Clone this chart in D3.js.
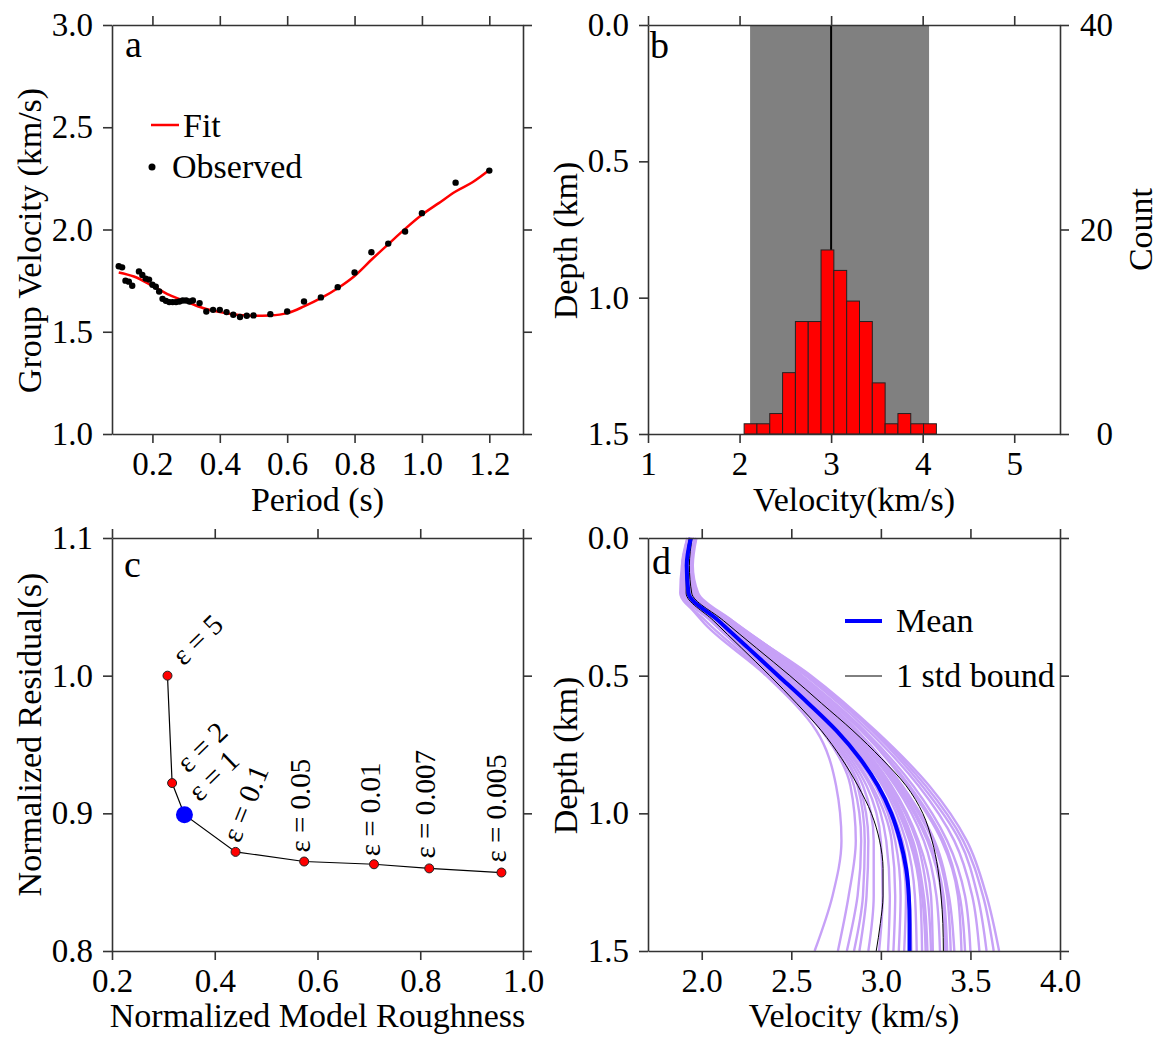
<!DOCTYPE html>
<html>
<head>
<meta charset="utf-8">
<script src="https://cdn.jsdelivr.net/npm/d3@7"></script>
<style>
  body { margin: 0; background: #fff; }
  text { font-family: "Liberation Serif", "Times New Roman", serif; }
</style>
</head>
<body>
<svg id="chart" width="1161" height="1043"></svg>
<script>
// panel a: dispersion curve
var periods = [0.10, 0.11, 0.12, 0.13, 0.14, 0.16, 0.17, 0.18, 0.19, 0.20, 0.21, 0.22, 0.23, 0.24,
               0.25, 0.26, 0.27, 0.28, 0.29, 0.30, 0.31, 0.32, 0.34, 0.36, 0.38, 0.40, 0.42, 0.44,
               0.46, 0.48, 0.50, 0.55, 0.60, 0.65, 0.70, 0.75, 0.80, 0.85, 0.90, 0.95, 1.00, 1.10, 1.20];
var observed = [1.82, 1.815, 1.75, 1.745, 1.725, 1.795, 1.778, 1.76, 1.755, 1.73, 1.72, 1.697, 1.661, 1.651,
                1.645, 1.645, 1.645, 1.648, 1.653, 1.653, 1.648, 1.653, 1.640, 1.599, 1.607, 1.607, 1.596, 1.583,
                1.572, 1.578, 1.580, 1.586, 1.599, 1.648, 1.668, 1.718, 1.790, 1.889, 1.931, 1.990, 2.080, 2.229, 2.288];
var fitPeriods = [0.10, 0.145, 0.20, 0.25, 0.30, 0.35, 0.40, 0.45, 0.50, 0.55, 0.60, 0.65, 0.70, 0.75,
                  0.80, 0.85, 0.90, 0.95, 1.00, 1.05, 1.10, 1.15, 1.20];
var fitVelocity = [1.79, 1.77, 1.725, 1.68, 1.648, 1.616, 1.596, 1.583, 1.578, 1.58, 1.591, 1.624, 1.664, 1.713,
                   1.773, 1.852, 1.928, 2.003, 2.072, 2.129, 2.186, 2.231, 2.291];

// panel b: velocity histogram
var binEdges = [2.05, 2.19, 2.33, 2.47, 2.61, 2.75, 2.89, 3.03, 3.17, 3.31, 3.45, 3.59, 3.73, 3.87, 4.01, 4.15];
var binCounts = [1, 1, 2, 6, 11, 11, 18, 16, 13, 11, 5, 1, 2, 1, 1];
var bandRange = [2.115, 4.07];
var centreVelocity = 3.0;

// panel c: L-curve
var roughness = [0.308, 0.317, 0.341, 0.4405, 0.574, 0.710, 0.8175, 0.958];
var residual = [1.0, 0.922, 0.899, 0.872, 0.865, 0.863, 0.860, 0.857];
var epsLabels = ["5", "2", "1", "0.1", "0.05", "0.01", "0.007", "0.005"];
var chosenIndex = 2;

// panel d: velocity profiles
var depthGrid = [0, 0.1, 0.2, 0.3, 0.4, 0.5, 0.6, 0.7, 0.8, 0.9, 1.0, 1.1, 1.2, 1.3, 1.4, 1.5];
var meanProfile = [1.939, 1.916, 1.926, 2.093, 2.260, 2.427, 2.594, 2.752, 2.882, 2.984, 3.058, 3.108, 3.141, 3.156, 3.160, 3.160];
var lowerBound = [1.931, 1.913, 1.913, 2.065, 2.223, 2.380, 2.529, 2.668, 2.780, 2.872, 2.947, 2.993, 3.012, 3.012, 2.997, 2.974];
var upperBound = [1.946, 1.931, 1.944, 2.121, 2.306, 2.492, 2.668, 2.844, 3.002, 3.141, 3.234, 3.286, 3.318, 3.336, 3.346, 3.349];
var modelDepths = [0, 0.1, 0.2, 0.3, 0.5, 0.7, 0.9, 1.1, 1.3, 1.5];
var models = [
  [1.93, 1.90, 1.90, 2.00, 2.36, 2.64, 2.75, 2.78, 2.73, 2.63],
  [1.92, 1.89, 1.88, 2.02, 2.37, 2.67, 2.83, 2.86, 2.82, 2.76],
  [1.94, 1.91, 1.92, 2.06, 2.38, 2.68, 2.85, 2.89, 2.87, 2.81],
  [1.93, 1.90, 1.89, 2.05, 2.39, 2.69, 2.88, 2.93, 2.92, 2.88],
  [1.95, 1.92, 1.93, 2.07, 2.40, 2.70, 2.90, 2.96, 2.96, 2.93],
  [1.92, 1.89, 1.90, 2.06, 2.40, 2.71, 2.92, 3.00, 3.01, 2.99],
  [1.94, 1.91, 1.92, 2.08, 2.41, 2.72, 2.94, 3.03, 3.05, 3.04],
  [1.93, 1.90, 1.91, 2.07, 2.42, 2.73, 2.95, 3.06, 3.08, 3.07],
  [1.95, 1.92, 1.94, 2.10, 2.43, 2.74, 2.97, 3.08, 3.11, 3.10],
  [1.94, 1.91, 1.93, 2.09, 2.43, 2.75, 2.98, 3.10, 3.14, 3.13],
  [1.93, 1.91, 1.92, 2.09, 2.44, 2.76, 2.99, 3.12, 3.16, 3.17],
  [1.96, 1.93, 1.95, 2.11, 2.45, 2.77, 3.01, 3.14, 3.19, 3.20],
  [1.94, 1.92, 1.93, 2.10, 2.45, 2.78, 3.02, 3.16, 3.22, 3.23],
  [1.95, 1.92, 1.94, 2.12, 2.47, 2.80, 3.04, 3.18, 3.24, 3.26],
  [1.93, 1.91, 1.92, 2.11, 2.48, 2.82, 3.06, 3.21, 3.28, 3.29],
  [1.96, 1.93, 1.95, 2.13, 2.49, 2.83, 3.08, 3.24, 3.31, 3.33],
  [1.95, 1.92, 1.94, 2.13, 2.51, 2.85, 3.10, 3.27, 3.35, 3.37],
  [1.94, 1.92, 1.93, 2.14, 2.53, 2.87, 3.12, 3.30, 3.38, 3.41],
  [1.96, 1.94, 1.96, 2.15, 2.54, 2.89, 3.15, 3.34, 3.43, 3.45],
  [1.95, 1.93, 1.95, 2.15, 2.56, 2.91, 3.18, 3.37, 3.47, 3.50],
  [1.97, 1.94, 1.97, 2.16, 2.58, 2.93, 3.21, 3.41, 3.51, 3.55],
  [1.96, 1.94, 1.96, 2.17, 2.59, 2.95, 3.23, 3.44, 3.54, 3.59],
  [1.97, 1.95, 1.98, 2.17, 2.60, 2.96, 3.25, 3.46, 3.57, 3.63],
  [1.96, 1.94, 1.97, 2.16, 2.61, 2.97, 3.27, 3.48, 3.59, 3.66],
  [1.94, 1.91, 1.92, 2.10, 2.46, 2.79, 3.03, 3.17, 3.23, 3.25],
  [1.95, 1.93, 1.95, 2.12, 2.50, 2.84, 3.09, 3.26, 3.34, 3.36],
  [1.93, 1.90, 1.90, 2.05, 2.38, 2.69, 2.87, 2.91, 2.90, 2.85],
  [1.96, 1.94, 1.96, 2.14, 2.55, 2.90, 3.16, 3.35, 3.44, 3.47],
  [1.94, 1.92, 1.94, 2.11, 2.47, 2.81, 3.05, 3.20, 3.26, 3.28],
  [1.95, 1.93, 1.96, 2.14, 2.52, 2.86, 3.11, 3.29, 3.37, 3.39]
];

var FS = 33;      // tick labels
var TS = 34;      // titles and legend
var svg = d3.select("#chart");
svg.append("rect").attr("width", 1161).attr("height", 1043).attr("fill", "#fff");

// left, right, top, bottom of each panel
var boxA = {l: 112, r: 523, t: 25, b: 434};
var boxB = {l: 648, r: 1060, t: 25, b: 434};
var boxC = {l: 112, r: 523, t: 538, b: 951};
var boxD = {l: 648, r: 1060, t: 538, b: 951};

function styleAxis(g) {
    g.attr("font-size", FS).attr("font-family", "Liberation Serif");
    g.selectAll("path, line").attr("stroke", "#333").attr("stroke-width", 1.6);
    g.selectAll("text").attr("fill", "#000");
}

function drawFrame(box, x, y, xt, xfmt, yt, yfmt, rightAxis) {
    var g = svg.append("g");
    g.append("g").attr("transform", "translate(0," + box.b + ")")
        .call(d3.axisBottom(x).tickValues(xt).tickFormat(xfmt).tickSize(9).tickSizeOuter(0).tickPadding(9))
        .call(styleAxis);
    g.append("g").attr("transform", "translate(0," + box.t + ")")
        .call(d3.axisTop(x).tickValues(xt).tickFormat("").tickSize(9).tickSizeOuter(0))
        .call(styleAxis);
    g.append("g").attr("transform", "translate(" + box.l + ",0)")
        .call(d3.axisLeft(y).tickValues(yt).tickFormat(yfmt).tickSize(9).tickSizeOuter(0).tickPadding(10))
        .call(styleAxis);
    if (!rightAxis) {
        g.append("g").attr("transform", "translate(" + box.r + ",0)")
            .call(d3.axisRight(y).tickValues(yt).tickFormat("").tickSize(9).tickSizeOuter(0))
            .call(styleAxis);
    }
    return g;
}

function axisTitle(text, x, y, rotate) {
    svg.append("text")
        .attr("transform", "translate(" + x + "," + y + ")" + (rotate ? " rotate(-90)" : ""))
        .attr("text-anchor", "middle")
        .attr("font-size", TS)
        .text(text);
}

function panelLetter(text, x, y) {
    svg.append("text").attr("x", x).attr("y", y).attr("font-size", 38).text(text);
}

var f1 = d3.format(".1f");

// ---------- panel a ----------
var xa = d3.scaleLinear().domain([0.08, 1.3]).range([boxA.l, boxA.r]);
var ya = d3.scaleLinear().domain([1.0, 3.0]).range([boxA.b, boxA.t]);

var fitLine = d3.line().curve(d3.curveMonotoneX)
    .x(function(d, i) { return xa(fitPeriods[i]); })
    .y(function(d) { return ya(d); });
svg.append("path").datum(fitVelocity)
    .attr("d", fitLine).attr("fill", "none").attr("stroke", "#ff0000").attr("stroke-width", 2.5);

svg.append("g").selectAll("circle").data(observed).enter().append("circle")
    .attr("cx", function(d, i) { return xa(periods[i]); })
    .attr("cy", function(d) { return ya(d); })
    .attr("r", 3.2).attr("fill", "#000");

drawFrame(boxA, xa, ya, [0.2, 0.4, 0.6, 0.8, 1.0, 1.2], f1, [1.0, 1.5, 2.0, 2.5, 3.0], f1);
axisTitle("Period (s)", (boxA.l + boxA.r) / 2, boxA.b + 77, false);
axisTitle("Group Velocity (km/s)", 41, (boxA.t + boxA.b) / 2 + 11, true);
panelLetter("a", 125, 57);

svg.append("line").attr("x1", 151).attr("x2", 179).attr("y1", 125).attr("y2", 125)
    .attr("stroke", "#ff0000").attr("stroke-width", 2.5);
svg.append("text").attr("x", 183).attr("y", 137).attr("font-size", TS).text("Fit");
svg.append("circle").attr("cx", 152).attr("cy", 167).attr("r", 3.5).attr("fill", "#000");
svg.append("text").attr("x", 172).attr("y", 178).attr("font-size", TS).text("Observed");

// ---------- panel b ----------
var xb = d3.scaleLinear().domain([1, 5.5]).range([boxB.l, boxB.r]);
var yb = d3.scaleLinear().domain([0, 1.5]).range([boxB.t, boxB.b]);
var yc = d3.scaleLinear().domain([0, 40]).range([boxB.b, boxB.t]);

svg.append("rect")
    .attr("x", xb(bandRange[0])).attr("y", boxB.t)
    .attr("width", xb(bandRange[1]) - xb(bandRange[0])).attr("height", boxB.b - boxB.t)
    .attr("fill", "#808080");
svg.append("line")
    .attr("x1", xb(centreVelocity)).attr("x2", xb(centreVelocity))
    .attr("y1", boxB.t).attr("y2", yc(d3.max(binCounts)))
    .attr("stroke", "#000").attr("stroke-width", 2);

svg.append("g").selectAll("rect").data(binCounts).enter().append("rect")
    .attr("x", function(d, i) { return xb(binEdges[i]); })
    .attr("width", function(d, i) { return xb(binEdges[i + 1]) - xb(binEdges[i]); })
    .attr("y", function(d) { return yc(d); })
    .attr("height", function(d) { return yc(0) - yc(d); })
    .attr("fill", "#ff0000").attr("stroke", "#222").attr("stroke-width", 1);

drawFrame(boxB, xb, yb, [1, 2, 3, 4, 5], d3.format("d"), [0, 0.5, 1.0, 1.5], f1, true);
svg.append("g").attr("transform", "translate(" + boxB.r + ",0)")
    .call(d3.axisRight(yc).tickValues([0, 20, 40]).tickFormat(d3.format("d")).tickSize(9).tickSizeOuter(0))
    .call(styleAxis)
    .selectAll("text").attr("text-anchor", "end").attr("x", 53);
axisTitle("Velocity(km/s)", (boxB.l + boxB.r) / 2, boxB.b + 77, false);
axisTitle("Depth (km)", 577, (boxB.t + boxB.b) / 2 + 11, true);
axisTitle("Count", 1152, (boxB.t + boxB.b) / 2, true);
panelLetter("b", 650, 58);

// ---------- panel c ----------
var xr = d3.scaleLinear().domain([0.2, 1.0]).range([boxC.l, boxC.r]);
var yr = d3.scaleLinear().domain([0.8, 1.1]).range([boxC.b, boxC.t]);

var lcurve = d3.line()
    .x(function(d, i) { return xr(roughness[i]); })
    .y(function(d) { return yr(d); });
svg.append("path").datum(residual).attr("d", lcurve)
    .attr("fill", "none").attr("stroke", "#000").attr("stroke-width", 1.2);

svg.append("g").selectAll("circle").data(residual).enter().append("circle")
    .attr("cx", function(d, i) { return xr(roughness[i]); })
    .attr("cy", function(d) { return yr(d); })
    .attr("r", function(d, i) { return i === chosenIndex ? 8.5 : 4.5; })
    .attr("fill", function(d, i) { return i === chosenIndex ? "#0000ff" : "#ff0000"; })
    .attr("stroke", function(d, i) { return i === chosenIndex ? "none" : "#222"; })
    .attr("stroke-width", 1);

// label placement: offset from the point and rotation
var epsPlace = [
    {dx: 16, dy: -9, a: -44},
    {dx: 16, dy: -9, a: -44},
    {dx: 15, dy: -12, a: -44},
    {dx: 4, dy: -8, a: -68},
    {dx: 6, dy: -9, a: -90},
    {dx: 6, dy: -8, a: -90},
    {dx: 6, dy: -10, a: -90},
    {dx: 5, dy: -10, a: -90}
];
svg.append("g").selectAll("text").data(epsLabels).enter().append("text")
    .attr("transform", function(d, i) {
        var p = epsPlace[i];
        return "translate(" + (xr(roughness[i]) + p.dx) + "," + (yr(residual[i]) + p.dy) + ") rotate(" + p.a + ")";
    })
    .attr("font-size", 29)
    .text(function(d) { return "\u03b5 = " + d; });

drawFrame(boxC, xr, yr, [0.2, 0.4, 0.6, 0.8, 1.0], f1, [0.8, 0.9, 1.0, 1.1], f1);
axisTitle("Normalized Model Roughness", (boxC.l + boxC.r) / 2, boxC.b + 76, false);
axisTitle("Normalized Residual(s)", 41, (boxC.t + boxC.b) / 2 - 10, true);
panelLetter("c", 124, 577);

// ---------- panel d ----------
var xd = d3.scaleLinear().domain([1.7, 4.0]).range([boxD.l, boxD.r]);
var yd = d3.scaleLinear().domain([0, 1.5]).range([boxD.t, boxD.b]);

var modelLine = d3.line().curve(d3.curveMonotoneY)
    .x(function(d) { return xd(d); })
    .y(function(d, i) { return yd(modelDepths[i]); });
var gridLine = d3.line().curve(d3.curveMonotoneY)
    .x(function(d) { return xd(d); })
    .y(function(d, i) { return yd(depthGrid[i]); });

var plot = svg.append("g");
plot.selectAll("path.model").data(models).enter().append("path")
    .attr("class", "model")
    .attr("d", modelLine).attr("fill", "none")
    .attr("stroke", "#c7a1f7").attr("stroke-width", 2.4);
[lowerBound, upperBound].forEach(function(b) {
    plot.append("path").datum(b).attr("d", gridLine)
        .attr("fill", "none").attr("stroke", "#000").attr("stroke-width", 1);
});
plot.append("path").datum(meanProfile).attr("d", gridLine)
    .attr("fill", "none").attr("stroke", "#0000ff").attr("stroke-width", 4);

drawFrame(boxD, xd, yd, [2.0, 2.5, 3.0, 3.5, 4.0], f1, [0, 0.5, 1.0, 1.5], f1);
axisTitle("Velocity (km/s)", (boxD.l + boxD.r) / 2, boxD.b + 76, false);
axisTitle("Depth (km)", 577, (boxD.t + boxD.b) / 2 + 11, true);
panelLetter("d", 652, 574);

svg.append("line").attr("x1", 845).attr("x2", 882).attr("y1", 621).attr("y2", 621)
    .attr("stroke", "#0000ff").attr("stroke-width", 4);
svg.append("text").attr("x", 896).attr("y", 632).attr("font-size", TS).text("Mean");
svg.append("line").attr("x1", 845).attr("x2", 882).attr("y1", 676).attr("y2", 676)
    .attr("stroke", "#000").attr("stroke-width", 1);
svg.append("text").attr("x", 896).attr("y", 687).attr("font-size", TS).text("1 std bound");
</script>
</body>
</html>
